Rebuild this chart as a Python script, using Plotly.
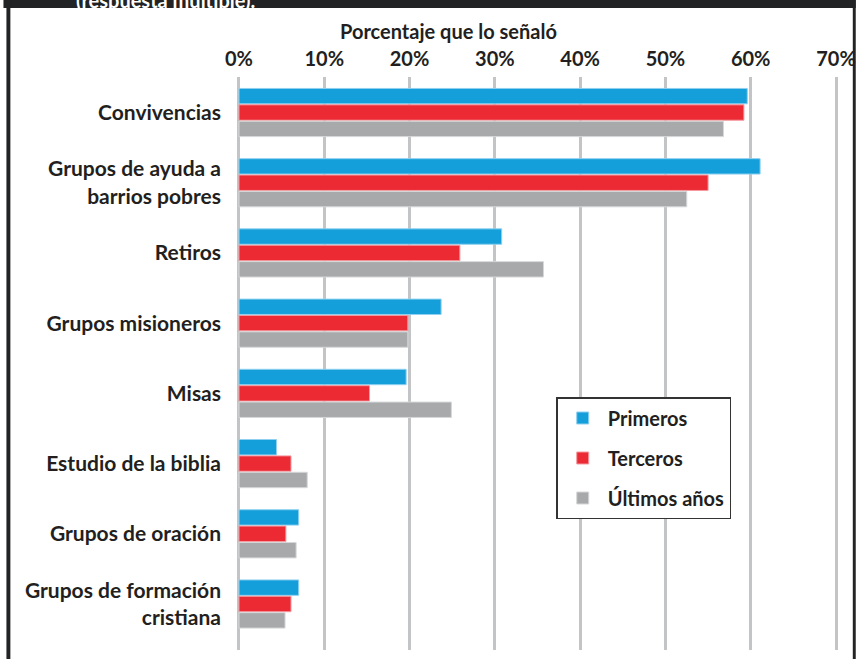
import plotly.graph_objects as go

categories = [
    "Convivencias",
    "Grupos de ayuda a<br>barrios pobres",
    "Retiros",
    "Grupos misioneros",
    "Misas",
    "Estudio de la biblia",
    "Grupos de oración",
    "Grupos de formación<br>cristiana",
]
primeros = [59.6, 61.1, 30.8, 23.7, 19.6, 4.4, 7.0, 7.0]
terceros = [59.2, 55.0, 25.9, 19.8, 15.3, 6.1, 5.5, 6.1]
ultimos = [56.8, 52.5, 35.7, 19.8, 24.9, 8.0, 6.7, 5.4]
series_names = ["Primeros", "Terceros", "Últimos años"]
tick_vals = [0, 10, 20, 30, 40, 50, 60, 70]
tick_text = ["0%", "10%", "20%", "30%", "40%", "50%", "60%", "70%"]

W, H = 865, 659
ML, MR, MT, MB = 236, 17, 77, 9
PW, PH = W - ML - MR, H - MT - MB

def px(x):
    return (x - ML) / PW

def py(y):
    return 1 - (y - MT) / PH

colors = ["#149fda", "#eb2a33", "#a7a9aa"]
edge = ["#8fd0f0", "#f59aa0", "#d6d7d8"]
TXT = "#231f20"
FONT = "Lato, 'Open Sans', sans-serif"

fig = go.Figure()
for name, vals, c, e in zip(series_names, [primeros, terceros, ultimos], colors, edge):
    fig.add_trace(go.Bar(
        y=categories, x=vals, name=name, orientation="h",
        marker=dict(color=c, line=dict(color=e, width=1)),
        legendgroup=name,
    ))

fig.update_layout(
    width=W, height=H,
    margin=dict(l=ML, r=MR, t=MT, b=MB, pad=0),
    paper_bgcolor="white", plot_bgcolor="white",
    barmode="group", bargap=0.30, bargroupgap=0.06,
    font=dict(family=FONT, color=TXT),
    showlegend=True,
    legend=dict(
        x=px(561), y=py(397), xanchor="left", yanchor="top",
        bgcolor="white", bordercolor="#333333", borderwidth=1.5,
        font=dict(family=FONT, size=20, color=TXT, weight="bold"),
        traceorder="grouped", tracegroupgap=11, itemwidth=40,
    ),
    xaxis=dict(
        side="top", range=[-0.35, 70.35], tickvals=tick_vals, ticktext=tick_text,
        showgrid=True, gridcolor="#c2c4c5", gridwidth=3, zeroline=False,
        showline=False, ticks="", ticklabelstandoff=6,
        tickfont=dict(family=FONT, size=20, color=TXT, weight="bold"),
    ),
    yaxis=dict(
        type="category", range=[7.655, -0.506], showgrid=False, zeroline=False,
        showline=False, ticks="", ticklabelstandoff=14,
        tickfont=dict(family=FONT, size=21, color=TXT, weight="bold"),
    ),
)

# dark frame around the figure
dark = "#222325"
fig.add_shape(type="rect", xref="paper", yref="paper", x0=px(0), x1=px(W), y0=py(8), y1=py(0),
              fillcolor=dark, line_width=0, layer="below")
fig.add_shape(type="rect", xref="paper", yref="paper", x0=px(3), x1=px(7), y0=py(H + 2), y1=py(0),
              fillcolor=dark, line_width=0, layer="below")
fig.add_shape(type="rect", xref="paper", yref="paper", x0=px(862), x1=px(W), y0=py(H + 2), y1=py(0),
              fillcolor=dark, line_width=0, layer="below")

fig.add_annotation(text="(respuesta múltiple).", xref="paper", yref="paper",
                   x=px(72), y=py(0), xanchor="left", yanchor="middle", showarrow=False,
                   font=dict(family=FONT, size=20, color="white", weight="bold"))
fig.add_annotation(text="Porcentaje que lo señaló", xref="paper", yref="paper",
                   x=px(451.5), y=py(31), xanchor="center", yanchor="middle", showarrow=False,
                   font=dict(family=FONT, size=20, color=TXT, weight="bold"))

fig.write_html("out.html")
